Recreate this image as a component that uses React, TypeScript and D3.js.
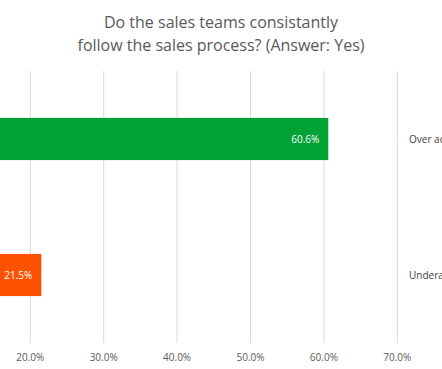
import React, { useEffect } from "react";
import * as d3 from "d3";

const categories = ["Over achievers", "Underachievers"];
const values = [60.6, 21.5];
const barColors = ["#00A135", "#FF5200"];
const ticks = [20, 30, 40, 50, 60, 70];
const titleLines = ["Do the sales teams consistantly", "follow the sales process? (Answer: Yes)"];

const W = 442;
const H = 369;

export default function App() {
  useEffect(() => {
    document.body.style.margin = "0";
  }, []);

  const x = d3.scaleLinear().domain([20, 70]).range([30.3, 397.3]);
  const y = d3.scaleBand().domain(categories).range([71, 343]).paddingInner(0.69).paddingOuter(0.345);
  const font = "Open Sans, Lato, sans-serif";

  return (
    <svg width={W} height={H} style={{ display: "block", background: "#fff" }} fontFamily={font}>
      {titleLines.map((t, i) => (
        <text key={i} x={221} y={28 + i * 23} textAnchor="middle" fontSize={16} fill="#595959">
          {t}
        </text>
      ))}
      {ticks.map((t) => (
        <g key={t}>
          <line x1={x(t)} x2={x(t)} y1={71} y2={343} stroke="#D9D9D9" strokeWidth={1} />
          <text x={x(t)} y={361} textAnchor="middle" fontSize={10} fill="#595959">
            {t.toFixed(1)}%
          </text>
        </g>
      ))}
      {categories.map((c, i) => {
        const y0 = y(c)!;
        const bw = y.bandwidth();
        return (
          <g key={c}>
            <rect x={x(0)} y={y0} width={x(values[i]) - x(0)} height={bw} fill={barColors[i]} />
            <text x={x(values[i]) - 9} y={y0 + bw / 2 + 3.5} textAnchor="end" fontSize={10} fill="#ffffff">
              {values[i].toFixed(1)}%
            </text>
            <text x={409} y={y0 + bw / 2 + 3.5} textAnchor="start" fontSize={10} fill="#404040">
              {c}
            </text>
          </g>
        );
      })}
    </svg>
  );
}
